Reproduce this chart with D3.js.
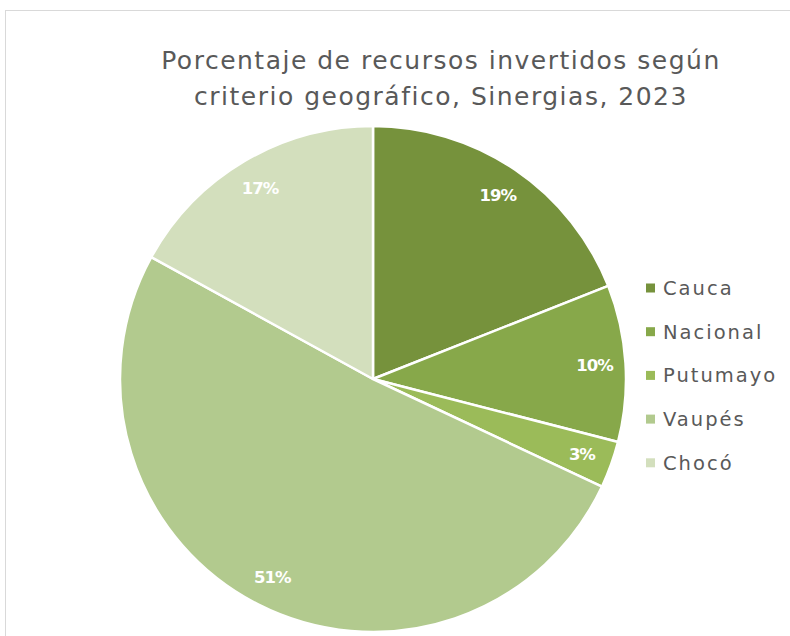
<!DOCTYPE html>
<html>
<head>
<meta charset="utf-8">
<script src="https://cdn.jsdelivr.net/npm/d3@7"></script>
<style>
html,body{margin:0;padding:0;background:#fff;}
svg{display:block;}
</style>
</head>
<body>
<svg id="chart" width="790" height="636"></svg>
<script>
const categories = ["Cauca", "Nacional", "Putumayo", "Vaupés", "Chocó"];
const values = [19, 10, 3, 51, 17];
const colors = ["#76923c", "#87a84a", "#9bbb59", "#b2ca8e", "#d3dfbd"];
const titleLines = ["Porcentaje de recursos invertidos según", "criterio geográfico, Sinergias, 2023"];

const svg = d3.select("#chart");
const font = "'DejaVu Sans', Verdana, sans-serif";

// frame
svg.append("rect").attr("x", 5.5).attr("y", 10.5).attr("width", 900).attr("height", 900)
  .attr("fill", "#fff").attr("stroke", "#d9d9d9").attr("stroke-width", 1);

// title
svg.append("g").selectAll("text").data(titleLines).join("text")
  .attr("x", 441).attr("y", (d, i) => 69 + i * 36)
  .attr("text-anchor", "middle")
  .attr("font-family", font).attr("font-size", 25)
  .attr("fill", "#595959").attr("letter-spacing", 1.5)
  .text(d => d);

const cx = 373, cy = 379, r = 253;
const data = categories.map((c, i) => ({ name: c, value: values[i], color: colors[i] }));
const pie = d3.pie().value(d => d.value).sort(null);
const arc = d3.arc().innerRadius(0).outerRadius(r);
const labelArc = d3.arc().innerRadius(222).outerRadius(222);
const arcs = pie(data);

const g = svg.append("g").attr("transform", `translate(${cx},${cy})`);
g.selectAll("path").data(arcs).join("path")
  .attr("d", arc).attr("fill", d => d.data.color)
  .attr("stroke", "#fff").attr("stroke-width", 2.5).attr("stroke-linejoin", "round");

g.selectAll("text").data(arcs).join("text")
  .attr("transform", d => `translate(${labelArc.centroid(d)})`)
  .attr("text-anchor", "middle").attr("dy", "0.35em")
  .attr("font-family", font).attr("font-weight", "bold").attr("font-size", 16.5)
  .attr("letter-spacing", -1)
  .attr("fill", "#fff")
  .text(d => d.data.value + "%");

// legend
const legend = svg.append("g").attr("transform", "translate(646,288)");
const items = legend.selectAll("g").data(data).join("g")
  .attr("transform", (d, i) => `translate(0,${i * 43.7})`);
items.append("rect").attr("x", 0).attr("y", -4.5).attr("width", 9).attr("height", 9)
  .attr("fill", d => d.color);
items.append("text").attr("x", 17).attr("y", 0).attr("dy", "0.35em")
  .attr("font-family", font).attr("font-size", 19.5).attr("letter-spacing", 2)
  .attr("fill", "#595959").text(d => d.name);
</script>
</body>
</html>
